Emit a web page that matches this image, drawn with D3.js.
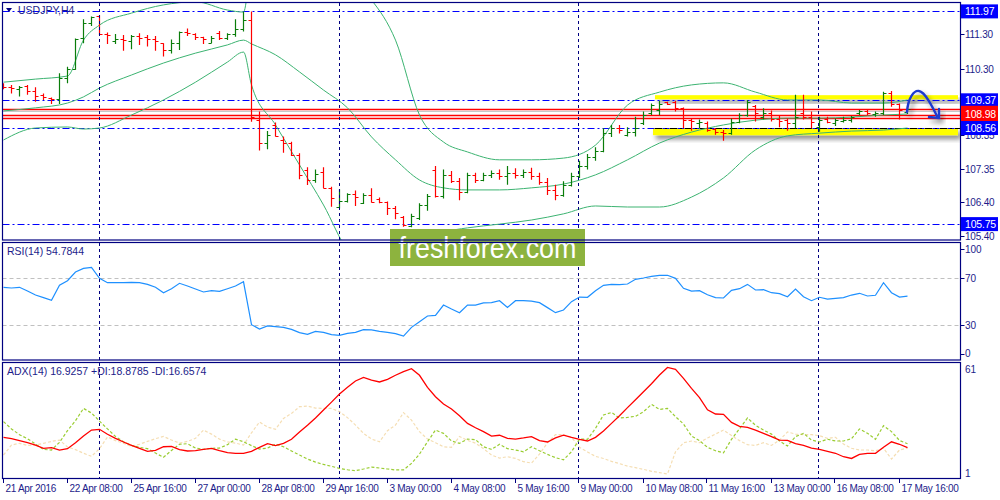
<!DOCTYPE html>
<html><head><meta charset="utf-8">
<script src="https://cdn.jsdelivr.net/npm/d3@7"></script>
<style>
body{margin:0;background:#fff}
svg{display:block}
text{font-family:"Liberation Sans",Arial,sans-serif}
</style>
</head><body>
<svg id="c" width="1000" height="500"></svg>
<script>
// ---------------- DATA ----------------
const symbol = "USDJPY,H4";
const timeLabels = ["21 Apr 2016","22 Apr 08:00","25 Apr 16:00","27 Apr 00:00","28 Apr 08:00","29 Apr 16:00","3 May 00:00","4 May 08:00","5 May 16:00","9 May 00:00","10 May 08:00","11 May 16:00","13 May 00:00","16 May 08:00","17 May 16:00"];
const timeLabelBars = [0,8,16,24,32,40,48,56,64,72,80,88,96,104,112];
const separatorBars = [12,42,72,102];

const open  = [109.82,109.77,109.69,109.79,109.65,109.53,109.43,109.40,110.01,110.28,111.18,111.62,111.84,111.30,111.11,111.15,111.11,111.25,111.23,111.15,111.04,110.84,111.04,111.38,111.30,111.21,111.06,111.33,111.18,111.31,111.45,111.72,108.79,108.11,108.65,108.21,108.11,107.77,107.33,107.04,107.27,106.81,106.26,106.43,106.63,106.38,106.60,106.48,106.39,106.21,105.96,105.69,105.93,106.31,107.33,106.57,107.20,107.02,106.70,107.18,107.05,107.20,107.25,107.15,107.25,107.20,107.28,107.15,106.98,106.75,106.60,106.90,107.15,107.45,107.70,107.90,108.40,108.55,108.36,108.45,108.70,108.99,109.09,109.31,109.33,109.14,108.79,108.70,108.72,108.52,108.45,108.40,108.75,108.94,109.20,108.89,108.99,108.81,108.79,108.70,108.99,108.89,108.60,108.81,108.72,108.77,108.79,108.99,109.07,108.97,108.99,109.59,109.26,109.04];
const high  = [109.87,109.82,109.79,109.82,109.75,109.57,109.45,110.16,110.35,111.18,111.74,111.82,111.86,111.35,111.31,111.28,111.28,111.33,111.28,111.25,111.04,111.15,111.38,111.47,111.33,111.23,111.25,111.40,111.33,111.74,111.96,111.97,109.04,108.47,108.72,108.31,108.16,107.82,107.41,107.35,107.41,106.84,106.77,106.65,106.73,106.65,106.80,106.53,106.41,106.28,105.99,106.05,106.36,106.63,107.45,107.35,107.30,107.10,107.25,107.25,107.25,107.32,107.35,107.45,107.38,107.35,107.40,107.25,107.10,106.90,107.00,107.25,107.60,107.80,108.00,108.55,108.65,108.65,108.58,108.89,109.04,109.28,109.36,109.33,109.36,109.16,108.84,108.81,108.75,108.55,108.50,108.84,108.99,109.38,109.23,109.14,109.07,108.94,108.84,109.53,109.53,109.04,108.89,108.89,108.84,108.89,108.91,109.09,109.11,109.04,109.62,109.64,109.28,109.13];
const low   = [109.69,109.57,109.48,109.53,109.33,109.38,109.26,109.26,109.87,110.26,111.04,111.54,111.28,111.02,111.02,110.82,110.86,110.99,110.94,110.82,110.65,110.74,110.84,111.25,111.13,111.02,111.04,111.13,111.13,111.23,111.38,108.74,107.90,107.94,108.31,107.84,107.74,107.06,106.89,106.96,106.80,106.26,106.21,106.38,106.28,106.34,106.38,106.36,106.02,105.89,105.67,105.66,105.87,106.14,106.53,106.50,106.95,106.45,106.65,106.95,107.00,107.10,107.05,106.90,107.08,107.10,107.05,106.90,106.60,106.45,106.55,106.85,107.10,107.35,107.60,107.85,108.30,108.40,108.31,108.31,108.65,108.94,108.94,109.23,109.04,108.55,108.48,108.55,108.45,108.36,108.19,108.36,108.70,108.89,108.75,108.81,108.75,108.58,108.48,108.55,108.81,108.55,108.45,108.70,108.62,108.72,108.72,108.94,108.94,108.89,108.94,109.18,108.81,108.97];
const close = [109.75,109.72,109.77,109.65,109.50,109.48,109.40,110.01,110.28,111.15,111.62,111.80,111.30,111.28,111.15,111.13,111.25,111.18,111.15,111.09,110.84,111.04,111.37,111.33,111.23,111.15,111.18,111.18,111.31,111.45,111.72,108.89,108.11,108.35,108.33,108.11,107.77,107.19,107.04,107.22,106.81,106.50,106.43,106.63,106.55,106.60,106.40,106.39,106.21,106.07,105.72,105.99,106.31,106.57,106.57,107.20,107.02,106.70,107.18,107.05,107.20,107.25,107.15,107.25,107.20,107.28,107.15,106.98,106.75,106.60,106.90,107.15,107.45,107.70,107.90,108.40,108.55,108.50,108.45,108.55,108.94,109.23,109.26,109.26,109.14,108.79,108.77,108.75,108.50,108.45,108.40,108.75,108.94,109.33,108.99,108.99,108.81,108.77,108.70,108.89,108.89,108.75,108.79,108.75,108.79,108.79,108.87,109.07,108.99,108.99,109.59,109.26,109.09,109.11];

const bbBars   = [0,4,8,10,12,16,20,24,28,30,31,34,37,40,43,46,49,52,55,58,62,66,70,74,78,82,86,90,94,98,102,106,110,113];
const bbUpper  = [109.90,109.99,110.08,111.13,111.57,111.92,112.16,112.25,112.01,111.95,113.18,113.47,113.47,113.33,112.89,112.30,111.13,108.94,108.15,107.86,107.63,107.63,107.68,108.06,109.23,109.61,109.82,109.88,109.61,109.38,109.38,109.29,109.29,109.38];
const bbMiddle = [109.06,109.15,109.29,109.47,109.73,110.11,110.46,110.75,110.99,111.13,111.02,110.70,110.20,109.67,109.15,108.30,107.63,107.04,106.81,106.75,106.75,106.81,106.92,107.19,107.63,108.12,108.44,108.65,108.79,108.85,108.85,108.88,108.94,108.97];
const bbLower  = [108.21,108.56,108.59,108.53,108.56,108.94,109.38,109.90,110.49,110.78,109.82,108.65,107.48,106.31,104.99,104.55,104.55,105.29,105.52,105.64,105.75,105.87,106.05,106.28,106.25,106.25,106.54,107.10,107.92,108.33,108.41,108.47,108.50,108.56];

const rsi = [62.3,61.7,62.3,59.1,55.7,53.5,51.2,64.0,67.9,75.3,78.4,79.3,69.9,66.2,66.2,66.2,66.5,66.2,64.8,62.3,57.7,61.1,65.7,63.4,60.8,58.3,59.4,58.9,61.1,63.4,67.0,30.5,26.8,29.4,28.8,28.2,26.5,23.7,22.3,24.8,24.0,22.0,21.4,23.1,24.0,26.2,26.0,24.8,24.0,22.8,20.8,28.2,33.0,37.9,38.4,47.2,43.8,40.7,47.2,47.2,49.0,49.2,50.9,45.2,50.9,50.9,50.6,49.2,45.0,40.7,43.0,50.1,54.0,53.8,59.4,64.0,64.8,64.5,65.1,69.1,70.2,71.6,72.5,72.5,69.9,61.4,59.1,59.4,56.0,53.5,53.2,59.7,61.1,64.8,60.0,60.3,57.7,56.9,54.3,60.8,54.3,50.9,53.8,52.3,52.9,53.5,55.7,57.2,54.9,55.5,66.2,57.7,54.0,54.8];
const adx = [22.2,21.5,20.5,19.4,18.2,16.5,16.8,15.6,16.3,19.4,22.9,26.0,26.4,23.8,21.7,19.8,18.0,16.5,14.9,15.4,17.3,17.5,15.8,15.1,15.3,15.9,16.5,15.3,14.2,13.9,13.9,14.9,17.0,18.9,17.9,19.1,21.2,25.0,28.5,32.3,36.5,40.6,44.8,48.3,51.6,53.5,52.1,51.1,52.5,54.6,56.5,58.0,54.6,48.3,43.4,39.6,37.0,33.5,29.5,27.2,25.2,22.9,23.3,21.7,21.3,21.9,22.6,20.5,19.8,21.9,23.4,22.2,21.2,20.3,22.2,25.5,29.5,33.5,37.7,41.8,46.0,50.2,54.7,58.7,57.7,53.0,47.8,42.9,36.6,34.4,34.2,30.0,27.9,27.4,26.0,24.3,22.6,20.8,20.6,18.9,18.0,16.6,15.9,14.9,13.9,12.1,11.2,13.3,13.9,13.9,17.0,19.9,18.6,16.9];
const plusDI = [30.4,26.6,23.6,21.5,18.7,15.9,15.6,19.6,25.7,30.9,37.3,34.9,30.7,26.6,22.7,19.9,18.0,17.0,16.3,14.0,11.8,15.4,18.6,18.9,16.6,15.9,16.5,16.6,18.4,21.3,19.9,17.9,16.1,16.6,18.7,17.3,15.1,13.0,10.9,9.3,8.1,7.1,6.0,5.3,4.8,5.7,6.7,6.2,5.7,5.2,5.2,8.6,13.5,19.9,26.0,24.3,20.3,19.1,21.3,21.0,17.3,15.9,18.6,16.3,15.6,14.7,17.3,15.2,13.3,11.6,10.5,14.7,21.3,21.2,26.9,33.9,35.2,32.3,32.6,33.2,35.6,39.4,36.8,37.3,33.0,29.2,22.9,20.5,17.0,15.2,14.2,21.2,26.7,32.3,28.5,26.0,23.9,20.3,17.7,22.6,24.3,20.8,19.8,21.2,20.3,20.3,21.5,26.6,24.3,21.2,28.3,25.2,20.6,18.9];
const minusDI = [13.0,18.2,19.1,18.0,18.2,19.1,20.1,20.8,17.2,15.8,13.9,12.3,16.3,22.4,20.5,19.1,17.5,18.6,20.1,21.5,22.7,20.8,19.2,20.1,21.7,26.0,23.9,21.3,19.8,19.2,18.2,24.6,30.2,27.6,26.4,32.1,34.7,38.2,38.5,37.5,37.3,37.3,35.6,32.5,28.6,24.3,21.3,19.9,25.7,28.6,35.1,31.2,25.2,21.3,19.4,17.3,17.0,22.7,20.6,19.2,16.3,13.0,11.4,12.1,11.2,9.5,8.8,13.5,19.4,23.6,23.6,22.2,17.0,14.6,12.3,11.2,9.7,8.5,7.2,6.4,5.5,4.5,3.8,3.1,14.7,19.4,20.3,19.4,21.9,23.9,26.0,23.2,20.5,18.4,18.0,19.4,18.0,20.8,25.0,23.9,23.6,23.6,23.1,21.7,22.2,18.7,16.5,15.6,15.6,15.2,16.5,10.9,15.6,16.7];

const priceTicks = [111.30,110.30,109.35,108.35,107.35,106.40,105.40];
const priceTickLabels = ["111.30","110.30","","108.35","107.35","106.40","105.40"];
const levelLines = [111.97,109.37,108.56,105.75];
const redLines = [109.13,108.93,108.85];
const bidLine = 109.07;
const redLabel = 108.98;
const rsiTicks = [100,70,30,0];
const rsiLevels = [70,30];
const adxTicks = [61,1];
const rsiTitle = "RSI(14) 54.7844";
const adxTitle = "ADX(14) 16.9257 +DI:18.8785 -DI:16.6574";
const zoneTop = [109.52,109.40];
const zoneBottom = [108.56,108.35];
const logoText = "freshforex.com";

// ---------------- LAYOUT ----------------
const svg = d3.select("#c");
const L = 2.5, R = 960.5;
const main = {top:2.5, bottom:240};
const rsiP = {top:242.5, bottom:360};
const adxP = {top:362.5, bottom:478.5};
const NAVY = "#000080", TXT = "#1c1c8a";

const x = d3.scaleLinear().domain([0,113]).range([3.5, 907.5]);
const y = d3.scaleLinear().domain([112.303,105.3]).range([0,239.5]);
const yR = d3.scaleLinear().domain([0,100]).range([360.5,243]);
const yA = d3.scaleLinear().domain([1,61]).range([478,363]);

const defs = svg.append("defs");
[["cm",main],["cr",rsiP],["ca",adxP]].forEach(([id,p])=>{
  defs.append("clipPath").attr("id",id).append("rect").attr("x",L).attr("y",p.top).attr("width",R-L).attr("height",p.bottom-p.top);
});
const sh = defs.append("filter").attr("id","sh").attr("x","-20%").attr("y","-50%").attr("width","140%").attr("height","250%");
sh.append("feGaussianBlur").attr("in","SourceAlpha").attr("stdDeviation",2.5).attr("result","b");
sh.append("feOffset").attr("in","b").attr("dx",3).attr("dy",4).attr("result","o");
sh.append("feComponentTransfer").attr("in","o").attr("result","o2").append("feFuncA").attr("type","linear").attr("slope",0.45);
const mg = sh.append("feMerge"); mg.append("feMergeNode").attr("in","o2"); mg.append("feMergeNode").attr("in","SourceGraphic");

// ---------- main panel ----------
const gm = svg.append("g").attr("clip-path","url(#cm)");
gm.append("rect").attr("x",655).attr("width",303).attr("y",y(zoneTop[0])).attr("height",y(zoneTop[1])-y(zoneTop[0]))
  .attr("fill","#ffff00").attr("filter","url(#sh)");
gm.append("rect").attr("x",653).attr("width",305).attr("y",y(zoneBottom[0])).attr("height",y(zoneBottom[1])-y(zoneBottom[0]))
  .attr("fill","#ffff00").attr("filter","url(#sh)");
gm.selectAll(".lvl").data(levelLines).join("line").attr("x1",L).attr("x2",R)
  .attr("y1",d=>Math.round(y(d))+0.5).attr("y2",d=>Math.round(y(d))+0.5)
  .attr("stroke","#0000ff").attr("stroke-width",1).attr("stroke-dasharray","7,3,2,3");
gm.append("line").attr("x1",655).attr("x2",R).attr("y1",Math.round(y(108.56))+0.5).attr("y2",Math.round(y(108.56))+0.5)
  .attr("stroke","#000").attr("stroke-dasharray","7,3,2,3");
gm.append("line").attr("x1",L).attr("x2",R).attr("y1",Math.round(y(bidLine))+0.5).attr("y2",Math.round(y(bidLine))+0.5).attr("stroke","#c8c8c8");
gm.selectAll(".rl").data(redLines).join("line").attr("x1",L).attr("x2",R)
  .attr("y1",d=>Math.round(y(d))+0.5).attr("y2",d=>Math.round(y(d))+0.5).attr("stroke","#ff0000").attr("stroke-width",1.3);

svg.append("g").selectAll("line").data(separatorBars).join("line")
  .attr("x1",d=>Math.round(x(d))-0.5).attr("x2",d=>Math.round(x(d))-0.5).attr("y1",3).attr("y2",478)
  .attr("stroke",NAVY).attr("stroke-dasharray","3,3").attr("stroke-width",1);

const bbLine = arr => d3.line().x((d,i)=>x(bbBars[i])).y(d=>y(d)).curve(d3.curveMonotoneX)(arr);
[bbUpper,bbMiddle,bbLower].forEach(a=>gm.append("path").attr("d",bbLine(a)).attr("fill","none").attr("stroke","#3cb371").attr("stroke-width",1));

const bars = d3.range(open.length).map(i=>({i,o:open[i],h:high[i],l:low[i],c:close[i]}));
const bg = gm.append("g").selectAll("g").data(bars).join("g")
  .attr("stroke",d=>d.c>=d.o?"#0a7d0a":"#ff0000").attr("stroke-width",1.2);
bg.append("line").attr("x1",d=>x(d.i)).attr("x2",d=>x(d.i)).attr("y1",d=>y(d.h)).attr("y2",d=>y(d.l));
bg.append("line").attr("x1",d=>x(d.i)-3).attr("x2",d=>x(d.i)).attr("y1",d=>Math.round(y(d.o))+0.5).attr("y2",d=>Math.round(y(d.o))+0.5);
bg.append("line").attr("x1",d=>x(d.i)).attr("x2",d=>x(d.i)+3).attr("y1",d=>Math.round(y(d.c))+0.5).attr("y2",d=>Math.round(y(d.c))+0.5);

const ag = svg.append("g").attr("filter","url(#sh)").attr("fill","none").attr("stroke","#1e3ad0").attr("stroke-width",2.4).attr("stroke-linecap","round");
ag.append("path").attr("d","M907,112 C908,98 914,90 919,91 C925,92 932,106 938,118");
ag.append("path").attr("d","M929,117 L939,118 L939,109");

svg.append("path").attr("d","M6,8 L12,8 L9,12 Z").attr("fill",NAVY);
svg.append("text").attr("x",18).attr("y",14).attr("font-size",10.5).attr("fill",TXT).text(symbol);

// ---------- RSI ----------
const gr = svg.append("g").attr("clip-path","url(#cr)");
gr.selectAll("line").data(rsiLevels).join("line").attr("x1",L).attr("x2",R)
  .attr("y1",d=>Math.round(yR(d))+0.5).attr("y2",d=>Math.round(yR(d))+0.5)
  .attr("stroke","#c0c0c0").attr("stroke-dasharray","4,3");
gr.append("path").attr("d",d3.line().x((d,i)=>x(i)).y(d=>yR(d))(rsi)).attr("fill","none").attr("stroke","#1e90ff").attr("stroke-width",1.2);
svg.append("text").attr("x",7).attr("y",255).attr("font-size",10.5).attr("fill",TXT).text(rsiTitle);

// ---------- ADX ----------
const ga = svg.append("g").attr("clip-path","url(#ca)");
const la = d3.line().x((d,i)=>x(i)).y(d=>yA(d));
ga.append("path").attr("d",la(minusDI)).attr("fill","none").attr("stroke","#f5deb3").attr("stroke-width",1.2).attr("stroke-dasharray","3,2");
ga.append("path").attr("d",la(plusDI)).attr("fill","none").attr("stroke","#9acd32").attr("stroke-width",1.2).attr("stroke-dasharray","3,2");
ga.append("path").attr("d",la(adx)).attr("fill","none").attr("stroke","#ff0000").attr("stroke-width",1.3);
svg.append("text").attr("x",7).attr("y",375).attr("font-size",10.5).attr("fill",TXT).text(adxTitle);

svg.append("rect").attr("x",390).attr("y",229).attr("width",195).attr("height",37).attr("fill","#8db33e");
svg.append("text").attr("x",487.5).attr("y",258).attr("text-anchor","middle").attr("font-family","'Open Sans',sans-serif")
  .attr("font-size",29).attr("fill","#fff").attr("textLength",178).attr("lengthAdjust","spacingAndGlyphs").text(logoText);

[main,rsiP,adxP].forEach(p=>svg.append("rect").attr("x",L).attr("y",p.top).attr("width",R-L).attr("height",p.bottom-p.top)
  .attr("fill","none").attr("stroke",NAVY).attr("stroke-width",1.2));

// ---------- axes ----------
const axR = svg.append("g").attr("font-size",10).attr("fill",TXT);
axR.selectAll(".pt").data(priceTicks).join("g").each(function(d,i){
  const g=d3.select(this), yy=Math.round(y(d))+0.5;
  g.append("line").attr("x1",R).attr("x2",R+4).attr("y1",yy).attr("y2",yy).attr("stroke",NAVY);
  if (priceTickLabels[i]) g.append("text").attr("x",965).attr("y",yy).attr("dy","0.35em").attr("letter-spacing",-0.2).text(priceTickLabels[i]);
});
const lab = (v,col,yy,h)=>{
  const g=svg.append("g");
  g.append("rect").attr("x",961).attr("y",yy-(h||14)/2).attr("width",37).attr("height",h||14).attr("fill",col);
  g.append("text").attr("x",965).attr("y",yy).attr("dy","0.35em").attr("font-size",10.5).attr("fill","#fff").attr("letter-spacing",-0.2).text(v.toFixed(2));
};
[111.97,109.37,105.75].forEach(v=>lab(v,"#0000ff",y(v)));
lab(redLabel,"#ff0000",(y(redLines[0])+y(redLines[2]))/2+1,17);
lab(108.56,"#0000ff",y(108.56));

axR.selectAll(".rt").data(rsiTicks).join("text").attr("x",965)
  .attr("y",d=> d===100?249:d===0?353.5:yR(d)).attr("dy","0.35em").text(d=>d);
axR.selectAll(".at").data(adxTicks).join("text").attr("x",965)
  .attr("y",d=> d===61?369:473).attr("dy","0.35em").text(d=>d);
rsiTicks.forEach(d=>{const yy=Math.round(d===100?249:d===0?353.5:yR(d))+0.5;
  svg.append("line").attr("x1",R).attr("x2",R+4).attr("y1",yy).attr("y2",yy).attr("stroke",NAVY);});

const axB = svg.append("g").attr("font-size",10).attr("fill",TXT);
axB.selectAll("g").data(timeLabelBars).join("g").each(function(b,i){
  const g=d3.select(this), xx=Math.round(x(b))-0.5;
  g.append("line").attr("x1",xx).attr("x2",xx).attr("y1",478.5).attr("y2",483).attr("stroke",NAVY);
  g.append("text").attr("x",xx+2).attr("y",492).attr("letter-spacing",-0.3).text(timeLabels[i]);
});
</script>
</body></html>
